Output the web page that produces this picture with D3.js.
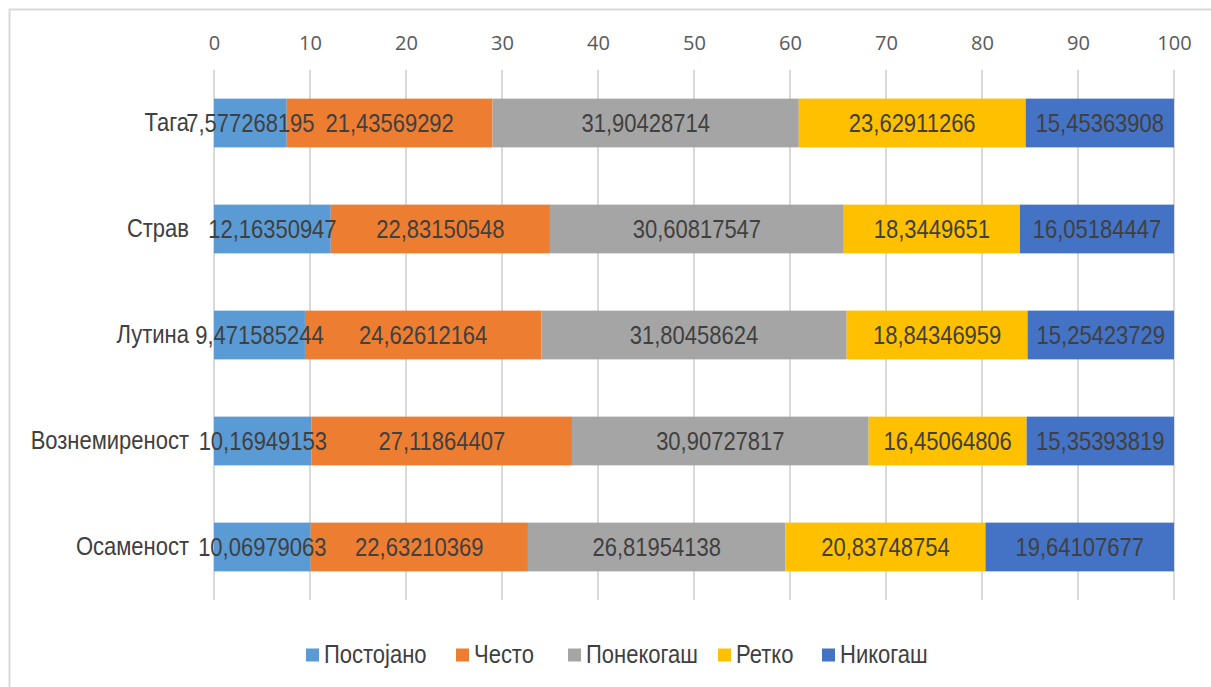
<!DOCTYPE html>
<html>
<head>
<meta charset="utf-8">
<script src="https://cdn.jsdelivr.net/npm/d3@7"></script>
<style>
  html, body { margin: 0; padding: 0; background: #ffffff; }
  svg { display: block; }
</style>
</head>
<body>
<svg id="chart" width="1211" height="687"></svg>
<script>
// Categories (top to bottom) and one value array per response series
const categories = ["Тага", "Страв", "Лутина", "Вознемиреност", "Осаменост"];
const seriesNames = ["Постојано", "Често", "Понекогаш", "Ретко", "Никогаш"];
const seriesColors = ["#5B9BD5", "#ED7D31", "#A5A5A5", "#FFC000", "#4472C4"];

const postojano = [7.577268195, 12.16350947, 9.471585244, 10.16949153, 10.06979063];
const cesto     = [21.43569292, 22.83150548, 24.62612164, 27.11864407, 22.63210369];
const ponekogas = [31.90428714, 30.60817547, 31.80458624, 30.90727817, 26.81954138];
const retko     = [23.62911266, 18.3449651, 18.84346959, 16.45064806, 20.83748754];
const nikogas   = [15.45363908, 16.05184447, 15.25423729, 15.35393819, 19.64107677];

const labels = [
  ["7,577268195", "12,16350947", "9,471585244", "10,16949153", "10,06979063"],
  ["21,43569292", "22,83150548", "24,62612164", "27,11864407", "22,63210369"],
  ["31,90428714", "30,60817547", "31,80458624", "30,90727817", "26,81954138"],
  ["23,62911266", "18,3449651", "18,84346959", "16,45064806", "20,83748754"],
  ["15,45363908", "16,05184447", "15,25423729", "15,35393819", "19,64107677"]
];

const xTicks = [0, 10, 20, 30, 40, 50, 60, 70, 80, 90, 100];

const seriesValues = [postojano, cesto, ponekogas, retko, nikogas];
const rows = categories.map((c, i) => {
  const r = { category: c };
  seriesNames.forEach((s, k) => { r[s] = seriesValues[k][i]; });
  return r;
});

const svg = d3.select("#chart");
const W = 1211, H = 687;
const plot = { left: 214, right: 1174, top: 70, bottom: 600 };

const labelFont = "'Liberation Sans', Arial, sans-serif";
const labelSize = 25;
const squeeze = 0.88;       // horizontal condensing of the label face
const textColor = "#404040";

// Outer chart frame
svg.append("rect")
  .attr("x", 9.5).attr("y", 9.5)
  .attr("width", W + 20).attr("height", H + 20)
  .attr("fill", "#ffffff")
  .attr("stroke", "#d9d9d9")
  .attr("stroke-width", 2);

const x = d3.scaleLinear().domain([0, 100]).range([plot.left, plot.right]);
const y = d3.scaleBand().domain(categories)
  .range([plot.top, plot.bottom])
  .paddingInner(0.54).paddingOuter(0.27);

// Vertical gridlines
svg.append("g")
  .selectAll("line")
  .data(xTicks)
  .join("line")
  .attr("x1", d => x(d)).attr("x2", d => x(d))
  .attr("y1", plot.top).attr("y2", plot.bottom)
  .attr("stroke", "#d9d9d9")
  .attr("stroke-width", 2);

// Top value axis (labels only)
const axis = svg.append("g")
  .attr("transform", `translate(0,${plot.top})`)
  .call(d3.axisTop(x).tickValues(xTicks).tickSize(0).tickPadding(20));
axis.select(".domain").remove();
axis.selectAll("text")
  .attr("font-family", "'Open Sans', sans-serif")
  .attr("font-size", 20)
  .attr("fill", "#595959");

// Stacked bars
const stack = d3.stack().keys(seriesNames);
const stacked = stack(rows);

function condensedText(sel, anchor) {
  return sel
    .attr("font-family", labelFont)
    .attr("font-size", labelSize)
    .attr("fill", textColor)
    .attr("text-anchor", anchor)
    .attr("dominant-baseline", "central");
}

const layers = svg.append("g")
  .selectAll("g")
  .data(stacked)
  .join("g")
  .attr("fill", (d, k) => seriesColors[k]);

layers.selectAll("rect")
  .data(d => d)
  .join("rect")
  .attr("x", d => x(d[0]))
  .attr("y", d => y(d.data.category))
  .attr("width", d => x(d[1]) - x(d[0]))
  .attr("height", y.bandwidth());

// Category labels
const cats = svg.append("g")
  .selectAll("text")
  .data(categories)
  .join("text")
  .attr("transform", d => `translate(189,${y(d) + y.bandwidth() / 2}) scale(${squeeze},1)`)
  .text(d => d);
condensedText(cats, "end");

// Value labels centred in each segment
svg.append("g")
  .selectAll("g")
  .data(stacked)
  .join("g")
  .each(function(layer, k) {
    const t = d3.select(this).selectAll("text")
      .data(layer)
      .join("text")
      .attr("transform", (d, i) => `translate(${(x(d[0]) + x(d[1])) / 2},${y(d.data.category) + y.bandwidth() / 2 + 1}) scale(${squeeze},1)`)
      .text((d, i) => labels[k][i]);
    condensedText(t, "middle");
  });

// Legend
const legendY = 655;
const legendItems = [
  { name: seriesNames[0], x: 306 },
  { name: seriesNames[1], x: 456 },
  { name: seriesNames[2], x: 568 },
  { name: seriesNames[3], x: 718 },
  { name: seriesNames[4], x: 822 }
];
const leg = svg.append("g")
  .selectAll("g")
  .data(legendItems)
  .join("g")
  .attr("transform", d => `translate(${d.x},${legendY})`);
leg.append("rect")
  .attr("x", 0).attr("y", -6.5)
  .attr("width", 13).attr("height", 13)
  .attr("fill", (d, i) => seriesColors[i]);
const legText = leg.append("text")
  .attr("transform", `translate(18,0) scale(${squeeze},1)`)
  .text(d => d.name);
condensedText(legText, "start");
</script>
</body>
</html>
